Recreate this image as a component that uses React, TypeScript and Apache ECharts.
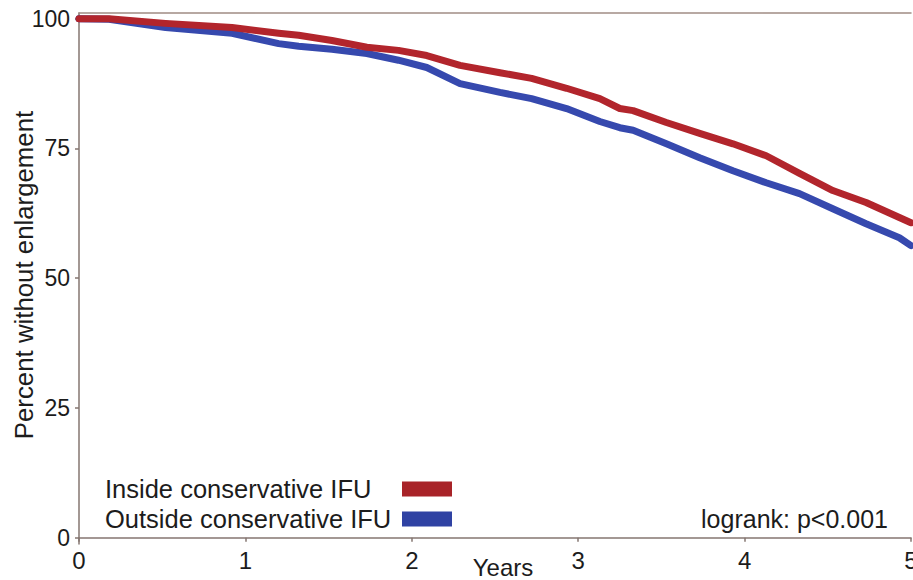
import React, { useEffect, useRef } from "react";
import * as echarts from "echarts";

const years = [0, 0.18, 0.52, 0.92, 1.2, 1.32, 1.52, 1.73, 1.92, 2.09, 2.29, 2.53, 2.72, 2.93, 3.13, 3.25, 3.33, 3.53, 3.73, 3.93, 4.13, 4.33, 4.53, 4.73, 4.93, 5.0];
const insideIFU = [100, 100, 99.1, 98.3, 97.2, 96.8, 95.8, 94.5, 93.9, 92.9, 91.0, 89.6, 88.5, 86.6, 84.6, 82.7, 82.3, 80.0, 77.9, 75.9, 73.6, 70.2, 66.9, 64.6, 61.7, 60.7];
const outsideIFU = [100, 99.9, 98.3, 97.2, 95.2, 94.7, 94.1, 93.3, 92.0, 90.6, 87.5, 85.8, 84.6, 82.7, 80.2, 79.0, 78.5, 75.9, 73.2, 70.7, 68.4, 66.3, 63.4, 60.5, 57.8, 56.3];
const yTicks = [0, 25, 50, 75, 100];
const seriesNames = ["Inside conservative IFU", "Outside conservative IFU"];

const FONT = "'Liberation Sans', Arial, sans-serif";
const AXIS_COLOR = "#857671";
const TEXT_COLOR = "#1c1c1c";
const RED = "#b2252c";
const BLUE = "#3649ae";

export default function App() {
  const ref = useRef<HTMLDivElement>(null);
  useEffect(() => {
    if (!ref.current) return;
    const chart = echarts.init(ref.current, null, { renderer: "svg" });
    const pair = (vals: number[]) => years.map((t, i) => [t, vals[i]]);
    chart.setOption({
      animation: false,
      backgroundColor: "#ffffff",
      textStyle: { fontFamily: FONT },
      grid: { left: 79, right: 2, top: 13, bottom: 36, containLabel: false, outerBoundsMode: "none" },
      legend: {
        orient: "vertical",
        left: 105,
        top: 476,
        padding: 0,
        align: "right",
        itemWidth: 50,
        itemHeight: 15,
        itemGap: 4,
        icon: "rect",
        formatter: (name: string) => "{t|" + name + "}",
        textStyle: {
          fontSize: 25.5,
          color: TEXT_COLOR,
          fontFamily: FONT,
          lineHeight: 25,
          rich: {
            t: { width: 292, align: "left", fontSize: 25.5, lineHeight: 25, color: TEXT_COLOR, fontFamily: FONT },
          },
        },
        data: [
          { name: seriesNames[0], itemStyle: { color: "#a82328" } },
          { name: seriesNames[1], itemStyle: { color: "#2f42a3" } },
        ],
      },
      xAxis: [
        {
          type: "value",
          min: 0,
          max: 5,
          interval: 1,
          axisLine: { show: true, lineStyle: { color: AXIS_COLOR, width: 1.5 } },
          axisTick: { show: true, length: 4, lineStyle: { color: AXIS_COLOR, width: 1.5 } },
          axisLabel: { fontSize: 24, color: TEXT_COLOR, margin: 4, fontFamily: FONT },
          splitLine: { show: false },
        },
        {
          type: "value",
          position: "top",
          min: 0,
          max: 5,
          axisLine: { show: true, lineStyle: { color: "#a08c84", width: 1.5 } },
          axisTick: { show: false },
          axisLabel: { show: false },
          splitLine: { show: false },
        },
      ],
      yAxis: {
        type: "value",
        min: -1.2,
        max: 101.1,
        axisLine: { show: true, lineStyle: { color: AXIS_COLOR, width: 1.5 } },
        axisTick: { show: true, length: 4, customValues: yTicks, lineStyle: { color: AXIS_COLOR, width: 1.5 } },
        axisLabel: { fontSize: 23, color: TEXT_COLOR, margin: 9, customValues: yTicks, fontFamily: FONT },
        splitLine: { show: false },
      },
      graphic: [
        {
          type: "text",
          x: 24,
          y: 275,
          rotation: Math.PI / 2,
          style: {
            text: "Percent without enlargement",
            fontSize: 25.8,
            fontFamily: FONT,
            fill: TEXT_COLOR,
            textAlign: "center",
            textVerticalAlign: "middle",
          },
        },
        {
          type: "text",
          x: 503,
          y: 567,
          style: {
            text: "Years",
            fontSize: 24,
            fontFamily: FONT,
            fill: TEXT_COLOR,
            textAlign: "center",
            textVerticalAlign: "middle",
          },
        },
        {
          type: "text",
          x: 888,
          y: 519,
          style: {
            text: "logrank: p<0.001",
            fontSize: 25,
            fontFamily: FONT,
            fill: TEXT_COLOR,
            textAlign: "right",
            textVerticalAlign: "middle",
          },
        },
      ],
      series: [
        {
          name: seriesNames[0],
          type: "line",
          data: pair(insideIFU),
          showSymbol: false,
          symbol: "none",
          color: RED,
          lineStyle: { color: RED, width: 7, cap: "round", join: "round" },
          z: 3,
        },
        {
          name: seriesNames[1],
          type: "line",
          data: pair(outsideIFU),
          showSymbol: false,
          symbol: "none",
          color: BLUE,
          lineStyle: { color: BLUE, width: 7, cap: "round", join: "round" },
          z: 2,
        },
      ],
    });
    return () => chart.dispose();
  }, []);
  return (
    <div
      ref={ref}
      style={{ position: "absolute", left: 0, top: 0, width: 913, height: 580 }}
    />
  );
}
